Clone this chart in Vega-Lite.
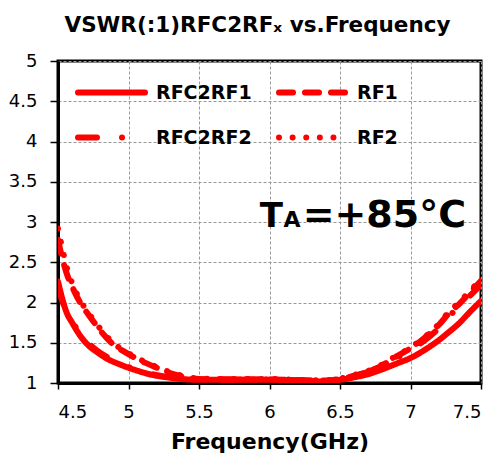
{
  "$schema": "https://vega.github.io/schema/vega-lite/v6.json",
  "width": 423,
  "height": 322,
  "padding": {"left": 8, "top": 14, "right": 3, "bottom": 5},
  "config": {
    "font": "DejaVu Sans",
    "view": {"stroke": "black", "strokeWidth": 3},
    "axis": {
      "domainColor": "black",
      "domainWidth": 3,
      "tickColor": "black",
      "tickWidth": 1.5,
      "tickSize": 7,
      "labelFont": "DejaVu Sans",
      "labelFontSize": 18,
      "labelColor": "black",
      "gridColor": "#999999",
      "gridDash": [3, 2],
      "gridWidth": 1,
      "titleColor": "black"
    }
  },
  "title": {
    "text": "VSWR(:1)RFC2RFₓ vs.Frequency",
    "font": "DejaVu Sans",
    "fontSize": 21.5,
    "fontWeight": "bold",
    "color": "black",
    "anchor": "middle",
    "dx": -12,
    "offset": 16
  },
  "layer": [
    {
      "data": {
        "values": [
          {"series": "RFC2RF1", "f": 4.5, "vswr": 2.26},
          {"series": "RFC2RF1", "f": 4.53, "vswr": 2.05},
          {"series": "RFC2RF1", "f": 4.56, "vswr": 1.88},
          {"series": "RFC2RF1", "f": 4.6, "vswr": 1.75},
          {"series": "RFC2RF1", "f": 4.66, "vswr": 1.58},
          {"series": "RFC2RF1", "f": 4.72, "vswr": 1.46},
          {"series": "RFC2RF1", "f": 4.78, "vswr": 1.38},
          {"series": "RFC2RF1", "f": 4.85, "vswr": 1.3},
          {"series": "RFC2RF1", "f": 4.94, "vswr": 1.23},
          {"series": "RFC2RF1", "f": 5.05, "vswr": 1.16},
          {"series": "RFC2RF1", "f": 5.17, "vswr": 1.1},
          {"series": "RFC2RF1", "f": 5.3, "vswr": 1.065},
          {"series": "RFC2RF1", "f": 5.41, "vswr": 1.045},
          {"series": "RFC2RF1", "f": 5.5, "vswr": 1.04},
          {"series": "RFC2RF1", "f": 5.7, "vswr": 1.04},
          {"series": "RFC2RF1", "f": 6.0, "vswr": 1.04},
          {"series": "RFC2RF1", "f": 6.2, "vswr": 1.03},
          {"series": "RFC2RF1", "f": 6.3, "vswr": 1.02},
          {"series": "RFC2RF1", "f": 6.4, "vswr": 1.02},
          {"series": "RFC2RF1", "f": 6.5, "vswr": 1.04},
          {"series": "RFC2RF1", "f": 6.6, "vswr": 1.07},
          {"series": "RFC2RF1", "f": 6.7, "vswr": 1.11},
          {"series": "RFC2RF1", "f": 6.8, "vswr": 1.17},
          {"series": "RFC2RF1", "f": 6.9, "vswr": 1.24},
          {"series": "RFC2RF1", "f": 7.0, "vswr": 1.31},
          {"series": "RFC2RF1", "f": 7.1, "vswr": 1.41},
          {"series": "RFC2RF1", "f": 7.2, "vswr": 1.53},
          {"series": "RFC2RF1", "f": 7.27, "vswr": 1.63},
          {"series": "RFC2RF1", "f": 7.35, "vswr": 1.75},
          {"series": "RFC2RF1", "f": 7.42, "vswr": 1.88},
          {"series": "RFC2RF1", "f": 7.5, "vswr": 2.02},

          {"series": "RFC2RF2", "f": 4.5, "vswr": 2.2},
          {"series": "RFC2RF2", "f": 4.53, "vswr": 2.02},
          {"series": "RFC2RF2", "f": 4.56, "vswr": 1.9},
          {"series": "RFC2RF2", "f": 4.6, "vswr": 1.77},
          {"series": "RFC2RF2", "f": 4.66, "vswr": 1.61},
          {"series": "RFC2RF2", "f": 4.72, "vswr": 1.49},
          {"series": "RFC2RF2", "f": 4.78, "vswr": 1.4},
          {"series": "RFC2RF2", "f": 4.85, "vswr": 1.32},
          {"series": "RFC2RF2", "f": 4.94, "vswr": 1.24},
          {"series": "RFC2RF2", "f": 5.05, "vswr": 1.17},
          {"series": "RFC2RF2", "f": 5.17, "vswr": 1.11},
          {"series": "RFC2RF2", "f": 5.3, "vswr": 1.07},
          {"series": "RFC2RF2", "f": 5.41, "vswr": 1.05},
          {"series": "RFC2RF2", "f": 5.5, "vswr": 1.045},
          {"series": "RFC2RF2", "f": 5.7, "vswr": 1.045},
          {"series": "RFC2RF2", "f": 6.0, "vswr": 1.045},
          {"series": "RFC2RF2", "f": 6.2, "vswr": 1.035},
          {"series": "RFC2RF2", "f": 6.3, "vswr": 1.03},
          {"series": "RFC2RF2", "f": 6.4, "vswr": 1.03},
          {"series": "RFC2RF2", "f": 6.5, "vswr": 1.05},
          {"series": "RFC2RF2", "f": 6.6, "vswr": 1.09},
          {"series": "RFC2RF2", "f": 6.7, "vswr": 1.14},
          {"series": "RFC2RF2", "f": 6.8, "vswr": 1.21},
          {"series": "RFC2RF2", "f": 6.9, "vswr": 1.31},
          {"series": "RFC2RF2", "f": 7.0, "vswr": 1.41},
          {"series": "RFC2RF2", "f": 7.1, "vswr": 1.53},
          {"series": "RFC2RF2", "f": 7.2, "vswr": 1.68},
          {"series": "RFC2RF2", "f": 7.27, "vswr": 1.82},
          {"series": "RFC2RF2", "f": 7.35, "vswr": 1.96},
          {"series": "RFC2RF2", "f": 7.42, "vswr": 2.08},
          {"series": "RFC2RF2", "f": 7.5, "vswr": 2.22},

          {"series": "RF1", "f": 4.5, "vswr": 2.78},
          {"series": "RF1", "f": 4.53, "vswr": 2.55},
          {"series": "RF1", "f": 4.56, "vswr": 2.37},
          {"series": "RF1", "f": 4.61, "vswr": 2.16},
          {"series": "RF1", "f": 4.66, "vswr": 1.99},
          {"series": "RF1", "f": 4.72, "vswr": 1.84},
          {"series": "RF1", "f": 4.77, "vswr": 1.72},
          {"series": "RF1", "f": 4.83, "vswr": 1.59},
          {"series": "RF1", "f": 4.89, "vswr": 1.48},
          {"series": "RF1", "f": 4.97, "vswr": 1.39},
          {"series": "RF1", "f": 5.05, "vswr": 1.31},
          {"series": "RF1", "f": 5.12, "vswr": 1.25},
          {"series": "RF1", "f": 5.2, "vswr": 1.19},
          {"series": "RF1", "f": 5.3, "vswr": 1.12},
          {"series": "RF1", "f": 5.41, "vswr": 1.07},
          {"series": "RF1", "f": 5.5, "vswr": 1.05},
          {"series": "RF1", "f": 5.7, "vswr": 1.045},
          {"series": "RF1", "f": 6.0, "vswr": 1.045},
          {"series": "RF1", "f": 6.2, "vswr": 1.035},
          {"series": "RF1", "f": 6.3, "vswr": 1.03},
          {"series": "RF1", "f": 6.4, "vswr": 1.03},
          {"series": "RF1", "f": 6.5, "vswr": 1.05},
          {"series": "RF1", "f": 6.6, "vswr": 1.09},
          {"series": "RF1", "f": 6.7, "vswr": 1.14},
          {"series": "RF1", "f": 6.8, "vswr": 1.22},
          {"series": "RF1", "f": 6.9, "vswr": 1.33},
          {"series": "RF1", "f": 7.0, "vswr": 1.43},
          {"series": "RF1", "f": 7.1, "vswr": 1.56},
          {"series": "RF1", "f": 7.2, "vswr": 1.72},
          {"series": "RF1", "f": 7.27, "vswr": 1.86},
          {"series": "RF1", "f": 7.35, "vswr": 1.99},
          {"series": "RF1", "f": 7.42, "vswr": 2.12},
          {"series": "RF1", "f": 7.5, "vswr": 2.27},

          {"series": "RF2", "f": 4.5, "vswr": 2.92},
          {"series": "RF2", "f": 4.53, "vswr": 2.68},
          {"series": "RF2", "f": 4.56, "vswr": 2.45},
          {"series": "RF2", "f": 4.61, "vswr": 2.2},
          {"series": "RF2", "f": 4.66, "vswr": 2.02},
          {"series": "RF2", "f": 4.72, "vswr": 1.86},
          {"series": "RF2", "f": 4.77, "vswr": 1.74},
          {"series": "RF2", "f": 4.83, "vswr": 1.61},
          {"series": "RF2", "f": 4.89, "vswr": 1.5},
          {"series": "RF2", "f": 4.97, "vswr": 1.4},
          {"series": "RF2", "f": 5.05, "vswr": 1.32},
          {"series": "RF2", "f": 5.12, "vswr": 1.26},
          {"series": "RF2", "f": 5.2, "vswr": 1.2},
          {"series": "RF2", "f": 5.3, "vswr": 1.13},
          {"series": "RF2", "f": 5.41, "vswr": 1.08},
          {"series": "RF2", "f": 5.5, "vswr": 1.055},
          {"series": "RF2", "f": 5.7, "vswr": 1.05},
          {"series": "RF2", "f": 6.0, "vswr": 1.05},
          {"series": "RF2", "f": 6.2, "vswr": 1.04},
          {"series": "RF2", "f": 6.3, "vswr": 1.035},
          {"series": "RF2", "f": 6.4, "vswr": 1.035},
          {"series": "RF2", "f": 6.5, "vswr": 1.055},
          {"series": "RF2", "f": 6.6, "vswr": 1.1},
          {"series": "RF2", "f": 6.7, "vswr": 1.15},
          {"series": "RF2", "f": 6.8, "vswr": 1.23},
          {"series": "RF2", "f": 6.9, "vswr": 1.34},
          {"series": "RF2", "f": 7.0, "vswr": 1.44},
          {"series": "RF2", "f": 7.1, "vswr": 1.57},
          {"series": "RF2", "f": 7.2, "vswr": 1.73},
          {"series": "RF2", "f": 7.27, "vswr": 1.88},
          {"series": "RF2", "f": 7.35, "vswr": 2.01},
          {"series": "RF2", "f": 7.42, "vswr": 2.14},
          {"series": "RF2", "f": 7.5, "vswr": 2.29}
        ]
      },
      "mark": {"type": "line", "color": "#ff0000", "strokeWidth": 6, "strokeCap": "round", "strokeJoin": "round", "interpolate": "monotone", "clip": true},
      "encoding": {
        "x": {
          "field": "f",
          "type": "quantitative",
          "scale": {"domain": [4.5, 7.5], "nice": false, "zero": false},
          "axis": {
            "values": [4.5, 5, 5.5, 6, 6.5, 7, 7.5],
            "labelExpr": "'' + datum.value",
            "labelPadding": 14,
            "tickSize": 6,
            "title": "Frequency(GHz)",
            "titleFontSize": 22,
            "titleFontWeight": "bold",
            "titlePadding": 10
          }
        },
        "y": {
          "field": "vswr",
          "type": "quantitative",
          "scale": {"domain": [1, 5], "nice": false, "zero": false},
          "axis": {
            "values": [1, 1.5, 2, 2.5, 3, 3.5, 4, 4.5, 5],
            "labelExpr": "'' + datum.value",
            "labelPadding": 13,
            "tickSize": 8,
            "title": null
          }
        },
        "strokeDash": {
          "field": "series",
          "type": "nominal",
          "scale": {
            "domain": ["RFC2RF1", "RFC2RF2", "RF1", "RF2"],
            "range": [[1, 0], [19, 25, 0.01, 25], [14, 12], [0.01, 13.6]]
          },
          "legend": {
            "title": null,
            "orient": "none",
            "legendX": 17,
            "legendY": 10,
            "columns": 2,
            "columnPadding": 24,
            "rowPadding": 2,
            "clipHeight": 43,
            "symbolType": "stroke",
            "symbolSize": 4489,
            "symbolStrokeWidth": 6,
            "symbolStrokeColor": "#ff0000",
            "labelFont": "DejaVu Sans",
            "labelFontSize": 19,
            "labelFontWeight": "bold",
            "labelColor": "black",
            "labelOffset": 8,
            "encode": {"symbols": {"update": {"strokeCap": {"value": "round"}}}}
          }
        }
      }
    },
    {
      "data": {"values": [{}]},
      "mark": {"type": "text", "text": "T", "font": "DejaVu Sans", "fontSize": 34, "fontWeight": "bold", "align": "left", "baseline": "alphabetic", "color": "black"},
      "encoding": {"x": {"datum": 5.93, "type": "quantitative"}, "y": {"datum": 2.94, "type": "quantitative"}}
    },
    {
      "data": {"values": [{}]},
      "mark": {"type": "text", "text": "A", "font": "DejaVu Sans", "fontSize": 22, "fontWeight": "bold", "align": "left", "baseline": "alphabetic", "color": "black"},
      "encoding": {"x": {"datum": 6.1, "type": "quantitative"}, "y": {"datum": 2.94, "type": "quantitative"}}
    },
    {
      "data": {"values": [{}]},
      "mark": {"type": "text", "text": "=+85°C", "font": "DejaVu Sans", "fontSize": 38, "fontWeight": "bold", "align": "left", "baseline": "alphabetic", "color": "black"},
      "encoding": {"x": {"datum": 6.235, "type": "quantitative"}, "y": {"datum": 2.94, "type": "quantitative"}}
    }
  ]
}
